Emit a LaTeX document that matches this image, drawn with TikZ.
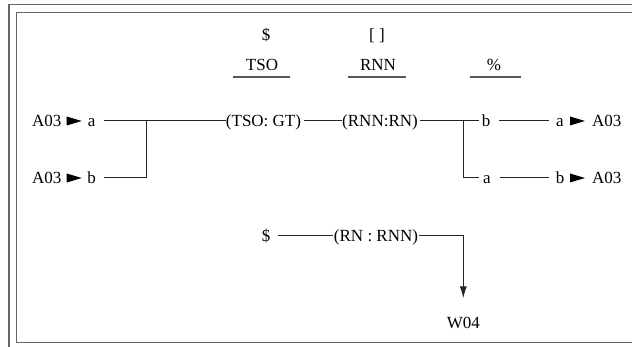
\documentclass[tikz,border=0pt]{standalone}
\usepackage{fontspec}
\setmainfont{Liberation Serif}
\usetikzlibrary{arrows.meta}
\begin{document}
\begin{tikzpicture}[x=1pt,y=-1pt,
  txt/.style={inner sep=0pt, text height=14pt, text depth=1pt, font=\fontsize{17}{20}\selectfont},
  conn/.style={draw=black!85, line width=0.9pt},
  uline/.style={draw=black!65, line width=1.2pt},
  frame/.style={draw=black!60, line width=1.5pt},
  tri/.style={fill=black}]
\useasboundingbox (0,0) rectangle (632,347);
% frame
\draw[frame] (9,347) -- (9,4.5) -- (632,4.5);
\draw[frame] (632,12.3) -- (16.5,12.3) -- (16.5,342.7) -- (632,342.7);
% header
\node[txt] (sd) at (266,34) {\$};
\node[txt] (br) at (377,34) {[ ]};
\node[txt] (tso) at (262,64) {TSO};
\node[txt] (rnn) at (378,64) {RNN};
\node[txt] (pct) at (494,64) {\%};
\draw[uline] (233,77) -- (290,77);
\draw[uline] (348,77) -- (406,77);
\draw[uline] (470,77) -- (521,77);
% left side
\node[txt] (aL1) at (46.7,120) {A03};
\node[txt] (la) at (91.7,120) {a};
\node[txt] (aL2) at (46.7,177) {A03};
\node[txt] (lb) at (91.7,177) {b};
\fill[tri] (66.7,116.5) -- (81.7,121) -- (66.7,125.5) -- cycle;
\fill[tri] (66.7,173.5) -- (81.7,178) -- (66.7,182.5) -- cycle;
% middle
\node[txt] (tg) at (263.5,120) {(TSO: GT)};
\node[txt] (rr) at (380,120) {(RNN:RN)};
% right side
\node[txt] (rb) at (486,120) {b};
\node[txt] (ra1) at (560,120) {a};
\node[txt] (aR1) at (606.7,120) {A03};
\node[txt] (ra2) at (487,177) {a};
\node[txt] (rb2) at (560,177) {b};
\node[txt] (aR2) at (606.7,177) {A03};
\fill[tri] (570,116.5) -- (585,121) -- (570,125.5) -- cycle;
\fill[tri] (570,173.5) -- (585,178) -- (570,182.5) -- cycle;
\coordinate (j1) at (146.7,120);
\coordinate (j2) at (463.3,120);
\draw[conn, shorten <=8pt] (la) -- (tg);
\draw[conn, shorten <=8pt] (lb) -| (j1);
\draw[conn, shorten <=3pt] (tg) -- (rr);
\draw[conn, shorten <=2pt, shorten >=3pt] (rr) -- (rb);
\draw[conn, shorten >=4pt] (j2) |- (ra2);
\draw[conn, shorten <=9pt, shorten >=7pt] (rb) -- (ra1);
\draw[conn, shorten <=9pt, shorten >=7pt] (ra2) -- (rb2);
% bottom
\node[txt] (d2) at (266,235) {\$};
\node[txt] (rn) at (376,235) {(RN : RNN)};
\node[txt] (w) at (463.3,322.5) {W04};
\draw[conn, shorten <=8pt, shorten >=1pt] (d2) -- (rn);
\draw[conn, shorten <=1pt, shorten >=16.7pt, -{Latex[length=11.7pt,width=7pt]}] (rn) -| (w);
\end{tikzpicture}
\end{document}
